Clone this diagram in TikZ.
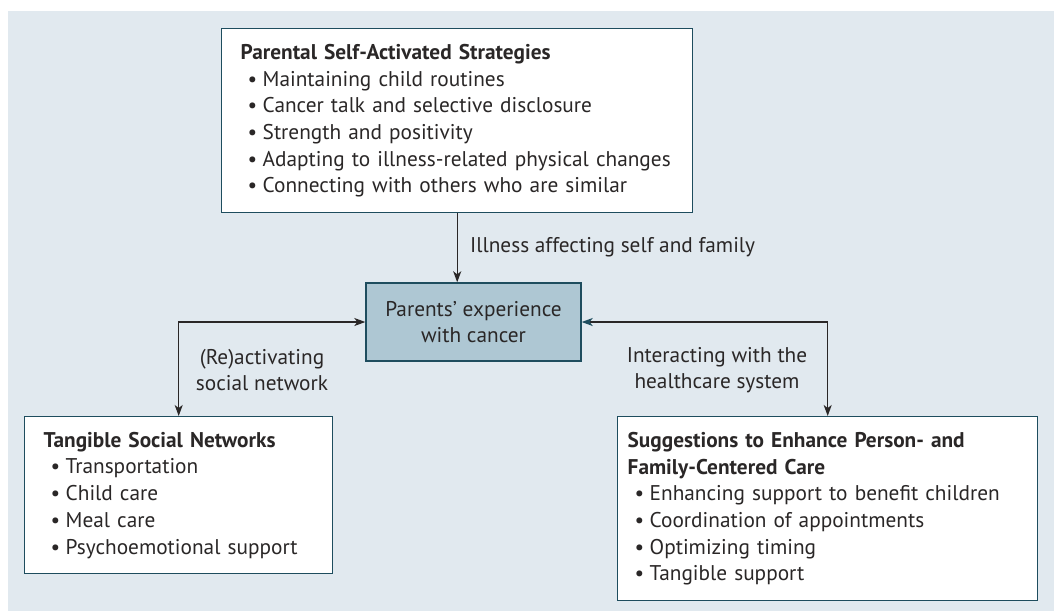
\documentclass[tikz,border=0pt]{standalone}
\usepackage{fontspec}
\setmainfont{PT Sans}
\usetikzlibrary{arrows.meta}
\definecolor{bgblue}{HTML}{E1E9EF}
\definecolor{coreblue}{HTML}{AEC7D3}
\definecolor{frame}{HTML}{1E4D5E}
\definecolor{ink}{HTML}{2A2727}
\newcommand{\itm}[1]{\\\hspace*{7pt}\makebox[15pt][l]{\textbullet}#1}
\tikzset{
  panel/.style={draw=frame, fill=white, line width=1.4pt, align=left,
    anchor=north west, inner ysep=0pt, text=ink},
  core/.style={draw=frame, fill=coreblue, line width=1.4pt, align=center,
    minimum width=215pt, minimum height=78pt, text=ink},
  lbl/.style={text=ink, align=center, inner sep=0pt},
  link/.style={draw=ink, line width=1.3pt, {Stealth[length=11pt,width=8pt,inset=3pt]}-{Stealth[length=11pt,width=8pt,inset=3pt]}}
}
\begin{document}
\begin{tikzpicture}[x=1pt, y=-1pt, font=\fontsize{21.3}{26.7}\selectfont]
      \useasboundingbox (0,0) rectangle (1058,611);
      \fill[bgblue] (8,11) rectangle (1054,611);
      \coordinate (c1) at (221, 28);
      \coordinate (c2) at (24, 416);
      \coordinate (c3) at (617, 416);
      \node[panel, text width=433pt, inner xsep=19pt, minimum height=184pt] (strat) at (c1)
        {\textbf{Parental Self-Activated Strategies}%
         \itm{Maintaining child routines}%
         \itm{Cancer talk and selective disclosure}%
         \itm{Strength and positivity}%
         \itm{Adapting to illness-related physical changes}%
         \itm{Connecting with others who are similar}};
      \node[panel, text width=270pt, inner xsep=19pt, minimum height=157pt] (social) at (c2)
        {\textbf{Tangible Social Networks}%
         \itm{Transportation}%
         \itm{Child care}%
         \itm{Meal care}%
         \itm{Psychoemotional support}};
      \node[panel, text width=400pt, inner xsep=10pt, minimum height=184pt] (care) at (c3)
        {\textbf{Suggestions to Enhance Person- and}\\\textbf{Family-Centered Care}%
         \itm{Enhancing support to benefit children}%
         \itm{Coordination of appointments}%
         \itm{Optimizing timing}%
         \itm{Tangible support}};
      \node[core] (exp) at (473.5, 322) {Parents’ experience\\with cancer};
      %\draw[link] (strat) -- (exp);
      \draw[link, {-Stealth[length=11pt,width=8pt,inset=3pt]}] (strat.south) -- (strat.south |- exp.north);
      \draw[link] (exp.west) -| (social.north);
      \draw[link, {Stealth[length=11pt,width=8pt,inset=3pt,color=frame]}-{Stealth[length=11pt,width=8pt,inset=3pt]}] (exp.east) -| (care.north);
      \node[lbl, anchor=west] at (470, 247) {Illness affecting self and family};
      \node[lbl] at (262, 370) {(Re)activating\\social network};
      \node[lbl] at (717, 370) {Interacting with the\\healthcare system};
    \end{tikzpicture}
\end{document}
